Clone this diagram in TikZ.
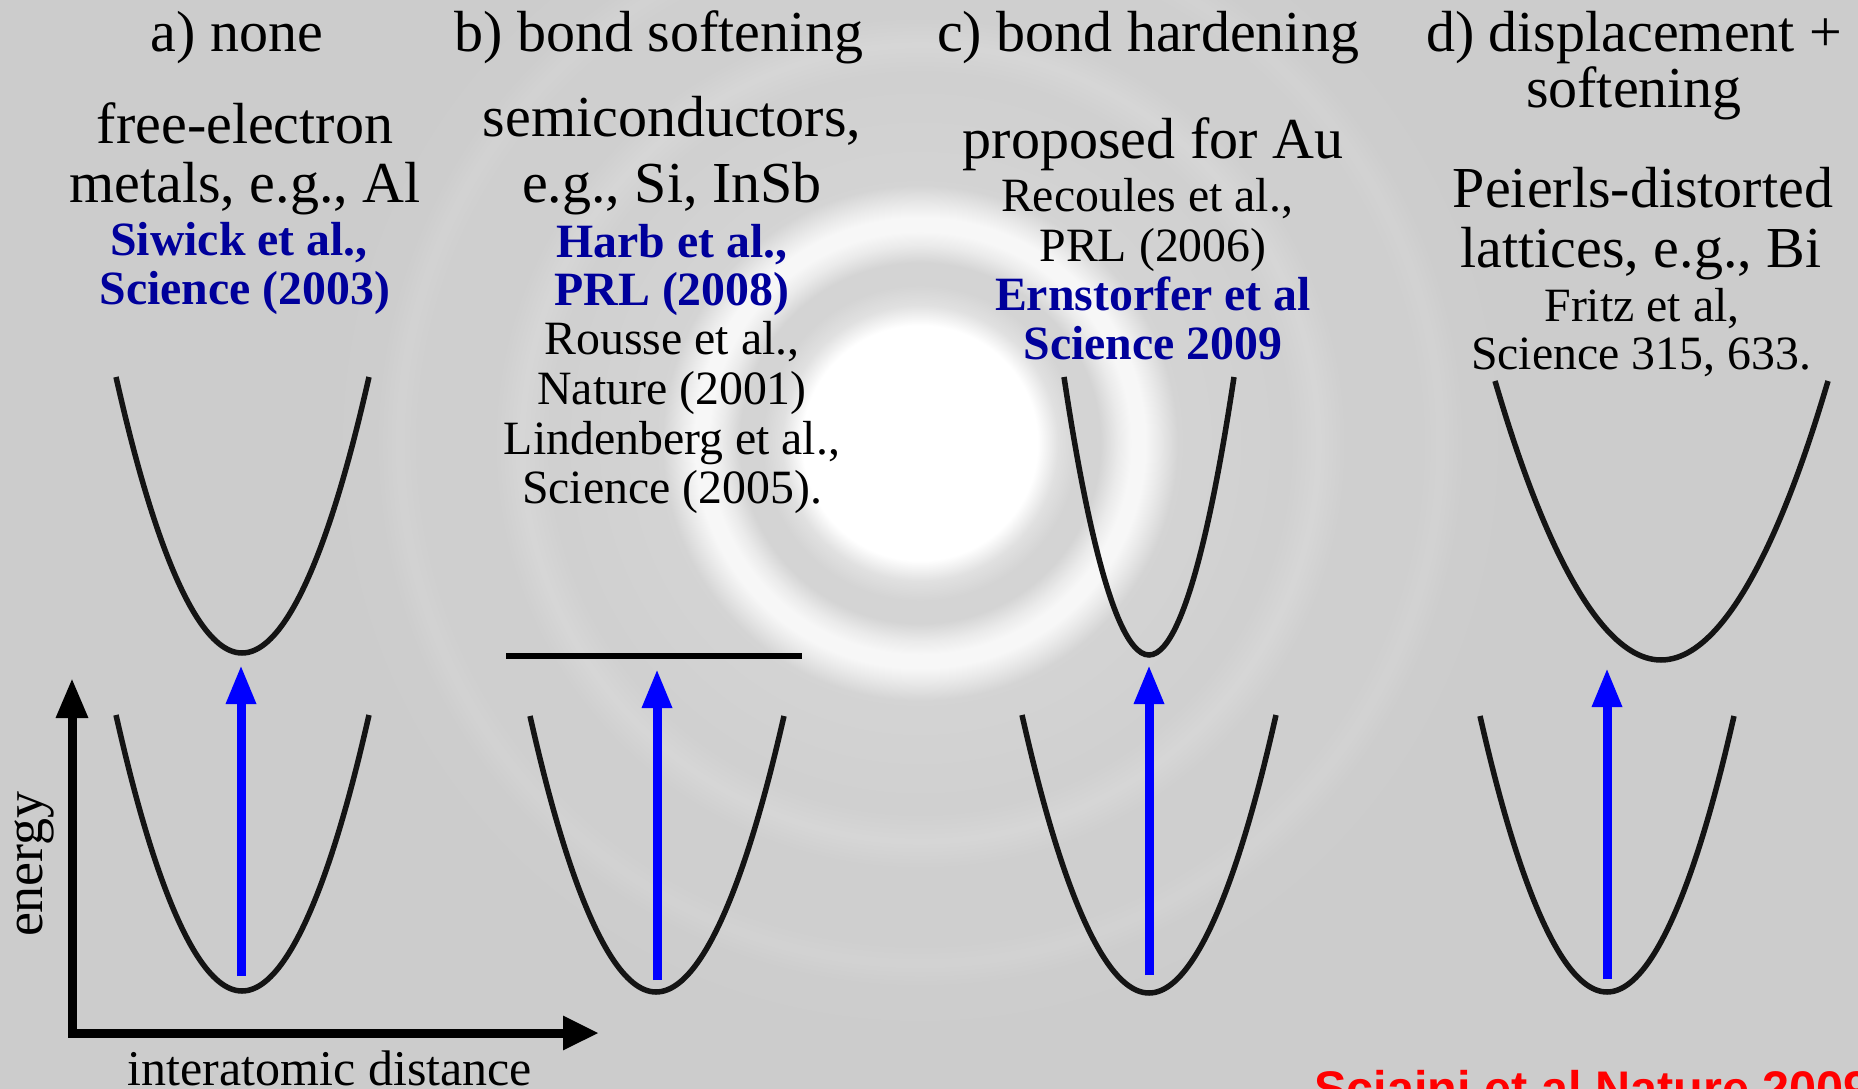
\documentclass[tikz,border=0pt]{standalone}
\usepackage{fontspec}
\setmainfont{Liberation Serif}
\newfontfamily\redsans{Liberation Sans}
\usetikzlibrary{arrows.meta}
\definecolor{bgc}{gray}{0.80}
\definecolor{refblue}{RGB}{0,0,155}
\definecolor{arrowblue}{RGB}{0,0,255}
\definecolor{rA}{gray}{0.88}
\definecolor{rB}{gray}{0.83}
\definecolor{rC}{gray}{0.97}
\definecolor{rD}{gray}{0.83}
\definecolor{rE}{gray}{0.815}
\definecolor{rF}{gray}{0.84}
\definecolor{rG}{gray}{0.81}
\definecolor{rH}{gray}{0.825}
\definecolor{rI}{gray}{0.805}
\definecolor{rJ}{gray}{0.92}
% the shading's 25bp radius is stretched to the radius of the shaded circle (600)
\pgfdeclareradialshading{diffr}{\pgfpoint{0bp}{0bp}}{%
color(0bp)=(white); color(4.9bp)=(white); color(5.75bp)=(rA); color(6.6bp)=(rB);
color(7.5bp)=(rB); color(8.25bp)=(rJ); color(8.83bp)=(rC); color(9.375bp)=(rC); color(9.9bp)=(rJ);
color(10.75bp)=(rD); color(15.4bp)=(rE); color(16.6bp)=(rF); color(17.8bp)=(rG);
color(20.8bp)=(rG); color(21.7bp)=(rH); color(22.6bp)=(rI); color(25bp)=(bgc); color(50bp)=(bgc)}
\tikzset{
  bigtxt/.style={font=\fontsize{58}{60}\selectfont, inner sep=0pt, anchor=base},
  smalltxt/.style={font=\fontsize{47.8}{50}\selectfont, inner sep=0pt, anchor=base},
  reftxt/.style={font=\fontsize{47.8}{50}\selectfont\bfseries, text=refblue, inner sep=0pt, anchor=base},
  curve/.style={line width=5.5pt, draw=black!92},
  excite/.style={line width=9pt, draw=arrowblue, -{Triangle[length=39pt,width=28pt]}},
  axis/.style={line width=9pt, line join=miter, {Triangle[length=40pt,width=30pt]}-{Triangle[length=36pt,width=32pt]}},
}
\begin{document}
\begin{tikzpicture}[x=1pt,y=-1pt]
\useasboundingbox (0,0) rectangle (1858,1089);
\clip (0,0) rectangle (1858,1089);
% background
\fill[bgc] (0,0) rectangle (1858,1089);
\shade[shading=diffr] (920,443) circle (600);

% titles
\node[bigtxt] (ta) at (237,52) {a) none};
\node[bigtxt] (tb) at (659,52) {b) bond softening};
\node[bigtxt] (tc) at (1148,52) {c) bond hardening};
\node[bigtxt] (td) at (1634,52) {d) displacement +};
\node[bigtxt] (td2) at (1634,108) {softening};

% column a
\node[bigtxt] (a1) at (245,143) {free-electron};
\node[bigtxt] (a2) at (245,202) {metals, e.g., Al};
\node[reftxt] (a3) at (239,255) {Siwick et al.,};
\node[reftxt] (a4) at (245,304) {Science (2003)};

% column b
\node[bigtxt] (b1) at (672,137) {semiconductors,};
\node[bigtxt] (b2) at (672,202) {e.g., Si, InSb};
\node[reftxt] (b3) at (672,257) {Harb et al.,};
\node[reftxt] (b4) at (672,305) {PRL (2008)};
\node[smalltxt] (b5) at (672,354) {Rousse et al.,};
\node[smalltxt] (b6) at (672,404) {Nature (2001)};
\node[smalltxt] (b7) at (672,454) {Lindenberg et al.,};
\node[smalltxt] (b8) at (672,503) {Science (2005).};

% column c
\node[bigtxt] (c1) at (1153,159) {proposed for Au};
\node[smalltxt] (c2) at (1147,211) {Recoules et al.,};
\node[smalltxt] (c3) at (1153,261) {PRL (2006)};
\node[reftxt] (c4) at (1153,310) {Ernstorfer et al};
\node[reftxt] (c5) at (1153,359) {Science 2009};

% column d
\node[bigtxt] (d1) at (1643,207) {Peierls-distorted};
\node[bigtxt] (d2) at (1641,267) {lattices, e.g., Bi};
\node[smalltxt] (d3) at (1642,321) {Fritz et al,};
\node[smalltxt] (d4) at (1641,369) {Science 315, 633.};

% potential curves
\draw[curve] (116,377) parabola bend (242,653) (369,377);
\draw[curve] (116,715) parabola bend (242,991) (369,715);
\draw[line width=6pt] (506,656) -- (802,656);
\draw[curve] (530,716) parabola bend (656,992) (784,716);
\draw[curve] (1064,377) parabola bend (1149,655) (1234,377);
\draw[curve] (1022,715) parabola bend (1149,993) (1276,715);
\draw[curve] (1495,381) parabola bend (1661,660) (1828,381);
\draw[curve] (1480,716) parabola bend (1607,992) (1734,716);

% excitation arrows
\coordinate (ea0) at (241,976); \coordinate (ea1) at (241,665);
\coordinate (eb0) at (657,980); \coordinate (eb1) at (657,669);
\coordinate (ec0) at (1149,975); \coordinate (ec1) at (1149,665);
\coordinate (ed0) at (1607,979); \coordinate (ed1) at (1607,668);
\draw[excite] (ea0) -- (ea1);
\draw[excite] (eb0) -- (eb1);
\draw[excite] (ec0) -- (ec1);
\draw[excite] (ed0) -- (ed1);

% axes
\coordinate (ytip) at (72,678);
\coordinate (corner) at (72,1033);
\coordinate (xtip) at (599,1033);
\draw[axis] (ytip) -- (corner) -- (xtip);
\node[font=\fontsize{50}{52}\selectfont, inner sep=0pt, anchor=base] (xl) at (330,1085) {interatomic distance};
\node[font=\fontsize{54}{56}\selectfont, inner sep=0pt, anchor=base, rotate=90] (yl) at (42,864) {energy};

% credit
\node[font=\redsans\bfseries\fontsize{48.6}{50}\selectfont, text=red, inner sep=0pt, anchor=base west] (cr) at (1314,1105) {Sciaini et al Nature 2009};
\end{tikzpicture}
\end{document}
